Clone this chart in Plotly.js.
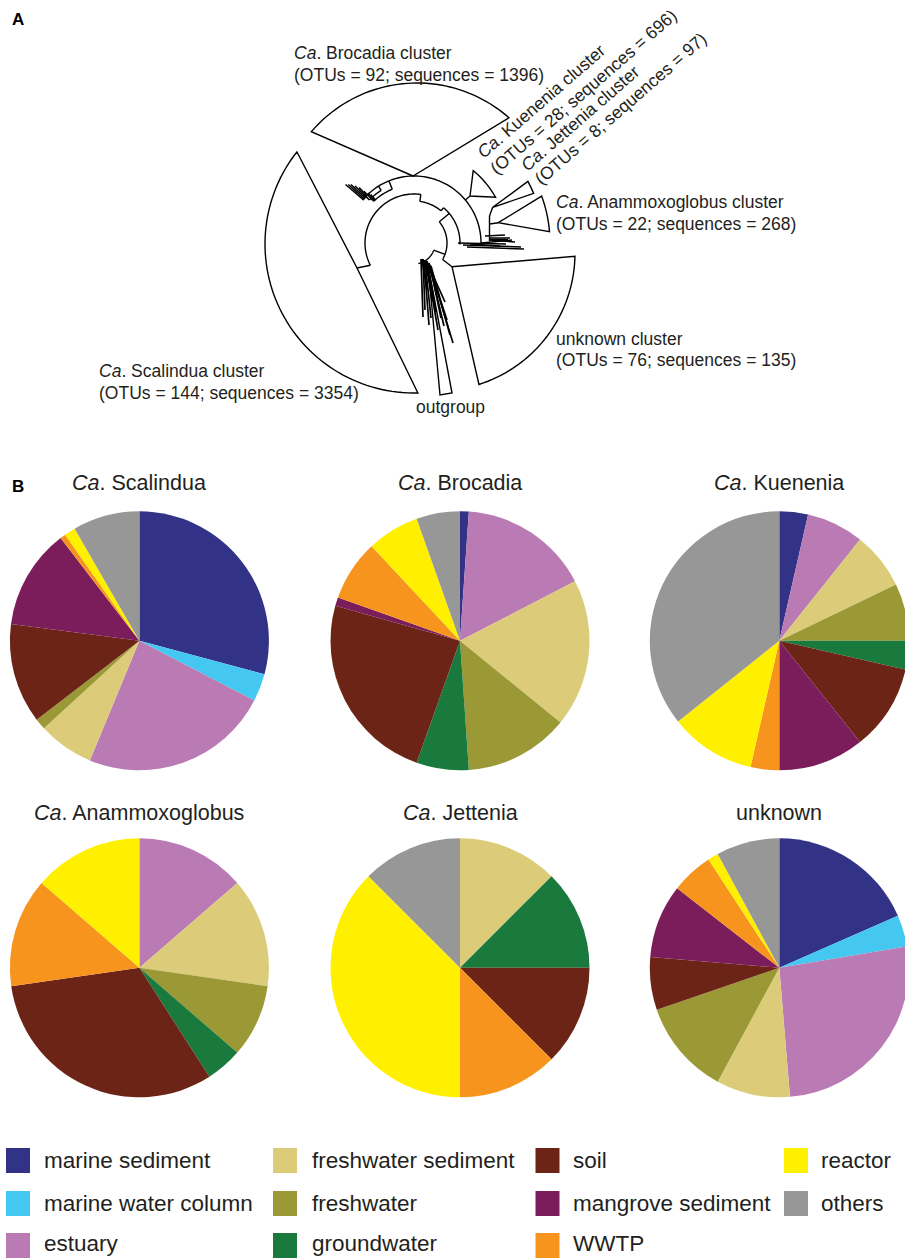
<!DOCTYPE html>
<html>
<head>
<meta charset="utf-8">
<script src="https://cdn.plot.ly/plotly-3.0.1.min.js"></script>
<style>
  html, body { margin: 0; padding: 0; background: #fff; overflow: hidden; }
  #chart { width: 912px; height: 1258px; }
</style>
</head>
<body>
<div id="chart"></div>
<script>
// Habitat categories (clockwise order inside every pie) and their colours
const categories = ['marine sediment', 'marine water column', 'estuary', 'freshwater sediment',
  'freshwater', 'groundwater', 'soil', 'mangrove sediment', 'WWTP', 'reactor', 'others'];
const categoryColors = ['#323286', '#44C8F2', '#BA7AB4', '#DCCC7A', '#9A9935', '#1A7A3E',
  '#6C2416', '#7B1C5B', '#F7941E', '#FFF000', '#979797'];

// Number of OTUs per habitat for each cluster
const scalinduaOTUs      = [42, 5, 34, 10, 2, 0, 18, 18, 1, 2, 12];
const brocadiaOTUs       = [1, 0, 15, 17, 12, 6, 22, 1, 7, 6, 5];
const kueneniaOTUs       = [1, 0, 2, 2, 2, 1, 3, 3, 1, 3, 10];
const anammoxoglobusOTUs = [0, 0, 3, 3, 2, 1, 7, 0, 3, 3, 0];
const jetteniaOTUs       = [0, 0, 0, 1, 0, 1, 1, 0, 1, 3, 1];
const unknownOTUs        = [14, 3, 20, 7, 9, 0, 5, 7, 4, 1, 6];

// Cluster summary used in the tree labels
const clusterNames = ['Brocadia', 'Kuenenia', 'Jettenia', 'Anammoxoglobus', 'unknown', 'Scalindua'];
const clusterOTUs = [92, 28, 8, 22, 76, 144];
const clusterSeqs = [1396, 696, 97, 268, 135, 3354];

const W = 912, H = 1258;
const FONT = '"Liberation Sans", Arial, Helvetica, sans-serif';
const INK = '#231F20';
const LW = 1.4;

// ---------- pies ----------
const pies = [
  {title: '<i>Ca</i>. Scalindua',      values: scalinduaOTUs,      cx: 139.4, cy: 640.8},
  {title: '<i>Ca</i>. Brocadia',       values: brocadiaOTUs,       cx: 460.0, cy: 640.8},
  {title: '<i>Ca</i>. Kuenenia',       values: kueneniaOTUs,       cx: 779.3, cy: 640.8},
  {title: '<i>Ca</i>. Anammoxoglobus', values: anammoxoglobusOTUs, cx: 139.4, cy: 967.8},
  {title: '<i>Ca</i>. Jettenia',       values: jetteniaOTUs,       cx: 460.0, cy: 967.8},
  {title: 'unknown',                   values: unknownOTUs,        cx: 779.3, cy: 967.8}
];
const R = 129.5;

const traces = [];
// invisible trace so the pixel-based cartesian frame exists
traces.push({x: [0, W], y: [0, H], type: 'scatter', mode: 'markers',
  marker: {opacity: 0}, hoverinfo: 'skip', showlegend: false});

pies.forEach(p => {
  traces.push({
    type: 'pie',
    labels: categories,
    values: p.values,
    marker: {colors: categoryColors, line: {width: 0}},
    sort: false,
    direction: 'clockwise',
    rotation: 0,
    textinfo: 'none',
    hoverinfo: 'label+value+percent',
    showlegend: false,
    domain: {
      x: [(p.cx - R) / W, (p.cx + R) / W],
      y: [1 - (p.cy + R) / H, 1 - (p.cy - R) / H]
    }
  });
});

// ---------- tree geometry helpers (pixel space, y down) ----------
const T = {x: 414, y: 243};
function pt(a, r, c) { c = c || T; const t = a * Math.PI / 180; return [c.x + r * Math.cos(t), c.y + r * Math.sin(t)]; }
function arcPts(c, r, a0, a1) {
  const n = Math.max(2, Math.ceil(Math.abs(a1 - a0) / 2));
  const out = [];
  for (let i = 0; i <= n; i++) out.push(pt(a0 + (a1 - a0) * i / n, r, c));
  return out;
}
function toPath(pts, close) {
  return pts.map((p, i) => (i ? 'L' : 'M') + p[0].toFixed(2) + ',' + p[1].toFixed(2)).join(' ') + (close ? ' Z' : '');
}
const shapes = [];
function stroke(pts, w) {
  shapes.push({type: 'path', xref: 'x', yref: 'y', path: toPath(pts, false),
    line: {color: '#000', width: w || LW}, layer: 'above'});
}
function wedge(pts) {
  shapes.push({type: 'path', xref: 'x', yref: 'y', path: toPath(pts, true),
    line: {color: '#000', width: LW}, fillcolor: 'rgba(0,0,0,0)', layer: 'above'});
}

// collapsed clades
wedge([[357, 268], [297, 152]].concat(arcPts({x: 414, y: 244}, 149, 218.2, 88.5)));            // Scalindua
wedge([[413, 176]].concat(arcPts({x: 417, y: 222}, 139, -139.5, -48.6)));                      // Brocadia
wedge([[470, 196]].concat(arcPts(T, 93.5, -50.7, -29.3)));                                    // Kuenenia
wedge([[492.7, 207.3]].concat(arcPts(T, 129.5, -28.4, -22.5)));                               // Jettenia
wedge([[498.3, 222.7]].concat(arcPts(T, 136, -20.2, -4.8)));                                  // Anammoxoglobus
wedge([[452, 266.7]].concat(arcPts({x: 437, y: 253}, 138, 1.4, 72.3)));                       // unknown
wedge([[428, 265], [440, 395], [452, 393]]);                                                  // outgroup

// backbone arcs
stroke(arcPts(T, 67, -134, 2));
stroke(arcPts(T, 49, 153, 278));
stroke([pt(278, 49), pt(278, 42)]);
stroke(arcPts(T, 42, -82, -50));
stroke([pt(-50, 42), pt(-50, 46)]);
stroke(arcPts(T, 46, -50, 2));
stroke([pt(153, 49), [357, 268]]);
stroke(arcPts(T, 33, -40, 30));
stroke([pt(-40, 33), pt(-40, 46)]);
stroke([pt(30, 33), [452, 266.7]]);
stroke(arcPts(T, 21, 20, 78));
stroke([pt(20, 21), pt(20, 33)]);
stroke([pt(57.5, 21), [428, 265]]);
stroke([pt(-40, 67), [470, 196]]);

// Brocadia leaves (upper left)
stroke(arcPts(T, 58, -134, -112));
stroke([pt(-112, 58), pt(-112, 67)]);
stroke(arcPts(T, 62, -136, -122));
stroke([pt(-122, 62), pt(-122, 67)]);
[[-139.5, 66, 90], [-138.3, 66, 88], [-137.2, 66, 86], [-136, 66, 82], [-134.8, 66, 78],
 [-134, 58, 72], [-132.8, 58, 68], [-131.8, 58, 65], [-136, 62, 70]]
  .forEach(l => stroke([pt(l[0], l[1]), pt(l[0], l[2])], 1.5));

// right-hand leaves
[[458, 243, 506, 244], [463, 245, 521, 247], [467, 247, 524, 249], [481, 243, 512, 240],
 [489, 238, 510, 238], [489, 240, 515, 242], [470, 244, 500, 246], [485, 236, 505, 235],
 [490, 239.5, 508, 239.5]]
  .forEach(l => stroke([[l[0], l[1]], [l[2], l[3]]], 1.5));
stroke([[489.5, 216], [489.5, 241]]);
stroke([[489.5, 216], [492.7, 207.3]]);
stroke([[489.5, 224], [498.3, 222.7]]);

// dense leaf fan below the root
[[421, 259, 423, 317], [423, 259, 425, 310], [425, 260, 434, 302], [426, 261, 438, 330],
 [427, 262, 445, 302], [428, 263, 447, 320], [429, 264, 453, 343], [430, 265, 441, 318],
 [424, 260, 429, 325], [426, 262, 432, 300], [431, 266, 450, 335], [422, 259, 427, 290],
 [427, 261, 436, 312], [429, 263, 444, 326], [425, 261, 431, 318]]
  .forEach(l => stroke([[l[0], l[1]], [l[2], l[3]]], 1.7));

// ---------- annotations ----------
const ann = [];
function label(text, x, y, size, opts) {
  ann.push(Object.assign({text: text, x: x, y: y, xref: 'x', yref: 'y', showarrow: false,
    xanchor: 'left', yanchor: 'middle', font: {family: FONT, size: size, color: INK}}, opts || {}));
}
function clusterLine1(i) {
  return (clusterNames[i] === 'unknown' ? 'unknown' : '<i>Ca</i>. ' + clusterNames[i]) + ' cluster';
}
function clusterLine2(i) { return '(OTUs = ' + clusterOTUs[i] + '; sequences = ' + clusterSeqs[i] + ')'; }

label('<b>A</b>', 10, 19, 17, {font: {family: FONT, size: 17, color: '#000'}});
label('<b>B</b>', 10, 486, 17, {font: {family: FONT, size: 17, color: '#000'}});

const fs = 17.5;
label(clusterLine1(0), 292, 53.3, fs);  label(clusterLine2(0), 292, 74.5, fs);
label(clusterLine1(3), 554, 202, fs);   label(clusterLine2(3), 554, 223.5, fs);
label(clusterLine1(4), 554, 338.5, fs); label(clusterLine2(4), 554, 360, fs);
label(clusterLine1(5), 97, 371, fs);    label(clusterLine2(5), 97, 392.7, fs);
label('outgroup', 450, 406.7, fs, {xanchor: 'center'});
const rot = {xanchor: 'center', textangle: -41};
label(clusterLine1(1), 541.6, 101.2, fs, rot);
label(clusterLine2(1), 583, 91.5, fs, rot);
label(clusterLine1(2), 580.3, 117.9, fs, rot);
label(clusterLine2(2), 620, 108.5, fs, rot);

// pie titles
const titleY = [483.3, 483.3, 483.3, 813.3, 813.3, 813.3];
pies.forEach((p, i) => label(p.title, p.cx, titleY[i], 21.5, {xanchor: 'center'}));

// legend (column-major, four columns)
const legSwatchX = [6, 273, 535.5, 784];
const legTextX = [41.5, 310, 571.3, 819.4];
const legRowY = [1160.5, 1203.5, 1245.5];
categories.forEach((c, i) => {
  const col = Math.floor(i / 3), row = i % 3;
  const x0 = legSwatchX[col], yc = legRowY[row];
  shapes.push({type: 'rect', xref: 'x', yref: 'y', x0: x0, x1: x0 + 24, y0: yc - 12.5, y1: yc + 12.5,
    fillcolor: categoryColors[i], line: {width: 0}, layer: 'above'});
  label(c, legTextX[col], Math.min(yc, 1243), 22.5);
});

const layout = {
  width: W, height: H,
  margin: {l: 0, r: 0, t: 0, b: 0},
  paper_bgcolor: '#fff', plot_bgcolor: 'rgba(0,0,0,0)',
  xaxis: {range: [0, W], visible: false, fixedrange: true, domain: [0, 1]},
  yaxis: {range: [H, 0], visible: false, fixedrange: true, domain: [0, 1]},
  shapes: shapes,
  annotations: ann,
  showlegend: false
};

Plotly.newPlot('chart', traces, layout, {displayModeBar: false, staticPlot: true});
</script>
</body>
</html>
